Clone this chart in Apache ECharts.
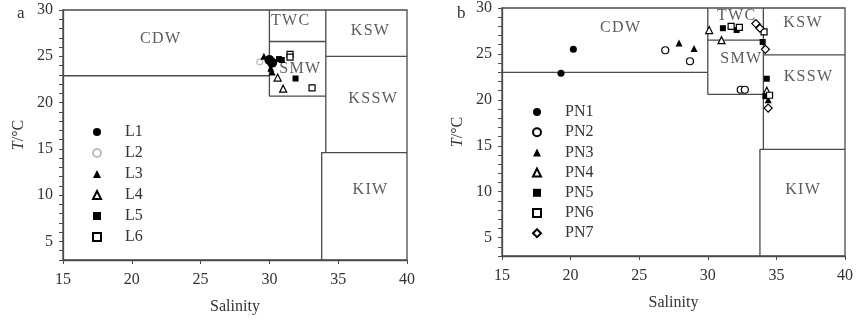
<!DOCTYPE html>
<html>
<head>
<meta charset="utf-8">
<script src="https://cdn.jsdelivr.net/npm/echarts@6/dist/echarts.min.js"></script>
<style>html,body{margin:0;padding:0;background:#fff}#c{width:856px;height:320px}</style>
</head>
<body>
<div id="c"></div>
<script>
// ---------- data ----------
const xTicks = [15, 20, 25, 30, 35, 40];
const yTicks = [5, 10, 15, 20, 25, 30];

// Panel a (salinity, temperature)
const L1 = [[30.0, 24.6], [30.2, 24.3]];
const L2 = [[29.3, 24.4]];
const L3 = [[29.6, 25.0], [30.1, 23.7], [30.2, 23.3]];
const L4 = [[30.6, 22.7], [31.0, 21.5]];
const L5 = [[30.7, 24.7], [30.9, 24.6], [31.9, 22.6]];
const L6 = [[31.5, 25.2], [31.5, 24.9], [33.1, 21.6]];

// Panel b
const PN1 = [[20.2, 25.5], [19.3, 22.9]];
const PN2 = [[26.9, 25.4], [28.7, 24.2], [32.4, 21.1], [32.7, 21.1]];
const PN3 = [[27.9, 26.2], [29.0, 25.6], [34.4, 20.0]];
const PN4 = [[30.1, 27.6], [31.0, 26.5], [34.3, 21.0]];
const PN5 = [[31.1, 27.8], [32.1, 27.6], [34.0, 26.3], [34.3, 22.3], [34.2, 20.4]];
const PN6 = [[31.7, 28.0], [32.3, 27.9], [34.1, 27.4], [34.5, 20.5]];
const PN7 = [[33.5, 28.3], [33.8, 27.8], [34.2, 25.5], [34.4, 19.1]];

// Water-mass boundaries (data coordinates)
const boundsA = [
  [[15, 22.9], [30, 22.9]],
  [[30, 30], [30, 20.7], [34.1, 20.7]],
  [[30, 26.6], [34.1, 26.6]],
  [[34.1, 30], [34.1, 14.6]],
  [[34.1, 25], [40, 25]],
  [[33.8, 3], [33.8, 14.6], [40, 14.6]]
];
const boundsB = [
  [[15, 23.0], [30, 23.0]],
  [[30, 30], [30, 20.6], [34.05, 20.6]],
  [[30, 26.5], [34.05, 26.5]],
  [[34.05, 30], [34.05, 14.6]],
  [[34.05, 24.9], [40, 24.9]],
  [[33.8, 3], [33.8, 14.6], [40, 14.6]]
];
const regionNames = ['CDW', 'TWC', 'SMW', 'KSW', 'KSSW', 'KIW'];
const regionPosA = [[22.05, 26.9], [31.5, 28.8], [32.2, 23.6], [37.3, 27.7], [37.5, 20.4], [37.3, 10.6]];
const regionPosB = [[23.6, 27.8], [32.06, 29.1], [32.4, 24.5], [36.9, 28.4], [37.3, 22.5], [36.9, 10.2]];

// ---------- chart ----------
const FONT = 'Liberation Serif';
const LINE = '#4a4a4a';
const TXT = '#333';

function xAxisCfg(gi) {
  return {
    gridIndex: gi, type: 'value', min: 15, max: 40, interval: 5,
    name: 'Salinity', nameLocation: 'middle', nameGap: 39,
    nameTextStyle: { fontFamily: FONT, fontSize: 16, color: TXT },
    axisLine: { show: true, lineStyle: { color: LINE, width: 1.3 } },
    axisTick: { show: true, length: 4, lineStyle: { color: LINE } },
    axisLabel: { fontFamily: FONT, fontSize: 16, color: TXT, margin: 12,
      formatter: v => xTicks.includes(v) ? String(v) : '' },
    splitLine: { show: false }
  };
}
function yAxisCfg(gi) {
  return {
    gridIndex: gi, type: 'value', min: 3, max: 30, interval: 1,
    name: '{i|T}/°C', nameLocation: 'middle', nameGap: 36,
    nameTextStyle: { fontFamily: FONT, fontSize: 16, color: TXT,
      rich: { i: { fontFamily: FONT, fontSize: 16, fontStyle: 'italic', color: TXT } } },
    axisLine: { show: true, lineStyle: { color: LINE, width: 1.3 } },
    axisTick: { show: true, length: 4, lineStyle: { color: LINE },
      interval: (idx, val) => yTicks.includes(Number(val)) },
    axisLabel: { fontFamily: FONT, fontSize: 16, color: TXT, margin: 10,
      interval: (idx, val) => yTicks.includes(Number(val)),
      formatter: v => yTicks.includes(v) ? String(v) : '' },
    splitLine: { show: false }
  };
}

const series = [];
function addBounds(b, gi) {
  b.forEach(seg => series.push({
    type: 'line', xAxisIndex: gi, yAxisIndex: gi, data: seg, symbol: 'none',
    lineStyle: { color: LINE, width: 1.3 }, silent: true, z: 1, animation: false
  }));
}
addBounds(boundsA, 0);
addBounds(boundsB, 1);

function addLabels(pos, gi) {
  series.push({
    type: 'scatter', xAxisIndex: gi, yAxisIndex: gi, symbolSize: 0, silent: true, z: 2,
    data: pos.map((p, i) => ({ value: p, name: regionNames[i] })),
    label: { show: true, position: 'inside', formatter: p => p.name.split('').join('\u200a'),
      fontFamily: FONT, fontSize: 16, color: TXT },
    animation: false
  });
}
addLabels(regionPosA, 0);
addLabels(regionPosB, 1);

function pt(name, data, gi, symbol, size, filled, stroke) {
  series.push({
    name, type: 'scatter', xAxisIndex: gi, yAxisIndex: gi, data, symbol, symbolSize: size, z: 5,
    itemStyle: filled ? { color: '#000', borderColor: '#000', borderWidth: 0, opacity: 1 }
                      : { color: '#fff', borderColor: stroke || '#000', borderWidth: 1.2, opacity: 1 },
    animation: false
  });
}
pt('L1', L1, 0, 'circle', 10, true);
pt('L2', L2, 0, 'circle', 6, false, '#bbb');
pt('L3', L3, 0, 'triangle', 7, true);
pt('L4', L4, 0, 'triangle', 7, false);
pt('L5', L5, 0, 'rect', 6, true);
pt('L6', L6, 0, 'rect', 6, false);

pt('PN1', PN1, 1, 'circle', 7, true);
pt('PN2', PN2, 1, 'circle', 7, false);
pt('PN3', PN3, 1, 'triangle', 7, true);
pt('PN4', PN4, 1, 'triangle', 7, false);
pt('PN5', PN5, 1, 'rect', 6, true);
pt('PN6', PN6, 1, 'rect', 6, false);
pt('PN7', PN7, 1, 'diamond', 8, false);

const legendCommon = {
  orient: 'vertical', itemWidth: 8, itemHeight: 8, selectedMode: false,
  textStyle: { fontFamily: FONT, fontSize: 16, color: TXT, padding: [0, 0, 0, 19] }
};

const option = {
  animation: false,
  backgroundColor: '#fff',
  title: [
    { text: 'a', left: 12, top: 0, textStyle: { fontFamily: FONT, fontSize: 17, fontWeight: 'normal', color: TXT } },
    { text: 'b', left: 452, top: 0, textStyle: { fontFamily: FONT, fontSize: 17, fontWeight: 'normal', color: TXT } }
  ],
  grid: [
    { left: 63, top: 10, width: 344, height: 250, show: true, borderColor: LINE, borderWidth: 1.3, backgroundColor: 'transparent' },
    { left: 502, top: 8, width: 344, height: 248, show: true, borderColor: LINE, borderWidth: 1.3, backgroundColor: 'transparent' }
  ],
  xAxis: [xAxisCfg(0), xAxisCfg(1)],
  yAxis: [yAxisCfg(0), yAxisCfg(1)],
  legend: [
    Object.assign({}, legendCommon, { left: 87, top: 119, itemGap: 5, data: ['L1', 'L2', 'L3', 'L4', 'L5', 'L6'] }),
    Object.assign({}, legendCommon, { left: 527, top: 99, itemGap: 4.2, data: ['PN1', 'PN2', 'PN3', 'PN4', 'PN5', 'PN6', 'PN7'] })
  ],
  series
};

const chart = echarts.init(document.getElementById('c'), null, { renderer: 'canvas' });
chart.setOption(option);
</script>
</body>
</html>
